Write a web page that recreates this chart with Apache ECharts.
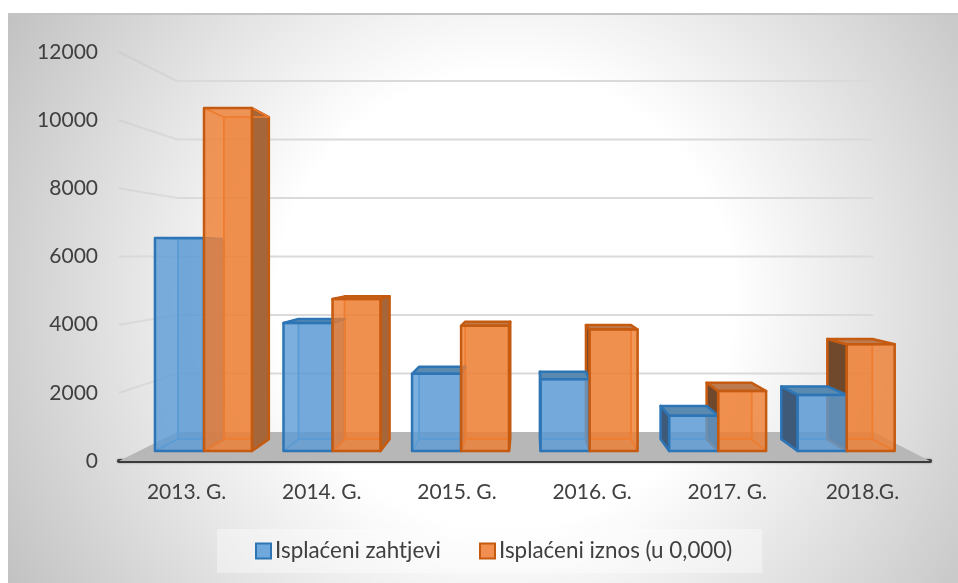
<!DOCTYPE html>
<html><head><meta charset="utf-8">
<style>html,body{margin:0;padding:0;background:#fff}#c{width:958px;height:583px}</style>
<script src="https://cdn.jsdelivr.net/npm/echarts@6/dist/echarts.min.js"></script>
</head><body><div id="c"></div>
<script>
const categories = ['2013. G.','2014. G.','2015. G.','2016. G.','2017. G.','2018.G.'];
const zahtjevi = [6570,3950,2380,2210,1090,1730];
const iznos = [10580,4690,3860,3750,1850,3290];
const ticks = [0,2000,4000,6000,8000,10000,12000];
const seriesNames = ['Isplaćeni zahtjevi','Isplaćeni iznos (u 0,000)'];

// perspective model
const VP_X = 529, VP_VALUE = 6000;
const T_BACK = 0.858, T_BAR_FRONT = 0.951, T_BAR_BACK = 0.893;
const BLUE = {start:0.1235,end:0.505,front:'rgba(91,155,213,0.80)',back:'rgba(91,155,213,0.28)',edge:'#2E75B6',inner:'#5B9BD5',left:'#3E5A78',right:'rgba(90,130,180,0.75)',top:'#5A8AB0'};
const ORANGE = {start:0.505,end:0.878,front:'rgba(237,125,49,0.80)',back:'rgba(237,125,49,0.28)',edge:'#C55A11',inner:'#ED7D31',left:'#70492C',right:'#A5663A',top:'#BC7A4E'};

function projector(api){
  const vy = api.coord([0,VP_VALUE])[1];
  return (p,t)=>[VP_X+(p[0]-VP_X)*t, vy+(p[1]-vy)*t];
}
function barRenderer(s){
  return function(params,api){
    const P = projector(api);
    const idx = api.value(0), v = api.value(1);
    const band = api.size([1,0])[0];
    const c0 = api.coord([idx,0]), c1 = api.coord([idx,v]);
    const xL = c0[0]-band/2+band*s.start, xR = c0[0]-band/2+band*s.end;
    const yB = c0[1], yT = c1[1], vy = api.coord([0,VP_VALUE])[1];
    const f = (x,y)=>P([x,y],T_BAR_FRONT), b = (x,y)=>P([x,y],T_BAR_BACK);
    const poly = (pts,fill,stroke,lw,z2)=>({type:'polygon',z2,shape:{points:pts},style:{fill:fill||'none',stroke,lineWidth:lw,lineJoin:'round'}});
    const ch = [];
    ch.push(poly([b(xL,yB),b(xR,yB),b(xR,yT),b(xL,yT)],s.back,s.inner,1.5,1));
    ch.push(poly([f(xL,yB),f(xR,yB),b(xR,yB),b(xL,yB)],null,s.inner,1.5,1));
    const leftFace=[f(xL,yB),f(xL,yT),b(xL,yT),b(xL,yB)], rightFace=[f(xR,yB),f(xR,yT),b(xR,yT),b(xR,yB)], topFace=[f(xL,yT),f(xR,yT),b(xR,yT),b(xL,yT)];
    if(f(xL,yB)[0]>VP_X) ch.push(poly(leftFace,s.left,s.edge,2.5,1)); else ch.push(poly(leftFace,null,s.inner,1.5,1));
    if(f(xR,yB)[0]<VP_X) ch.push(poly(rightFace,s.right,s.edge,2.5,1)); else ch.push(poly(rightFace,null,s.inner,1.5,1));
    if(yT>vy) ch.push(poly(topFace,s.top,s.edge,2.5,2)); else ch.push(poly(topFace,null,s.inner,1.5,1));
    ch.push(poly([f(xL,yB),f(xR,yB),f(xR,yT),f(xL,yT)],s.front,s.edge,2.5,3));
    return {type:'group',children:ch};
  };
}
function floorRenderer(params,api){
  const P = projector(api);
  const band = api.size([1,0])[0];
  const a = api.coord([0,0]), xL=a[0]-band/2, xR=xL+band*categories.length, y=a[1];
  return {type:'polygon',z2:0,shape:{points:[[xL,y],[xR,y],P([xR,y],T_BACK),P([xL,y],T_BACK)]},style:{fill:'#B7B7B7'}};
}
function gridRenderer(params,api){
  const P = projector(api);
  const band = api.size([1,0])[0];
  const a = api.coord([0,api.value(1)]), xL=a[0]-band/2, xR=xL+band*categories.length, y=a[1];
  const c = P([xL,y],T_BACK), d = P([xR,y],T_BACK);
  return {type:'group',children:[
    {type:'line',z2:0,shape:{x1:c[0],y1:c[1],x2:d[0],y2:d[1]},style:{stroke:'#DADADA',lineWidth:2}},
    {type:'line',z2:0,shape:{x1:xL,y1:y,x2:c[0],y2:c[1]},style:{stroke:'rgba(190,190,190,0.3)',lineWidth:2}}
  ]};
}
const font = 'Lato';
const chart = echarts.init(document.getElementById('c'),null,{renderer:'canvas'});
chart.setOption({
  animation:false,
  graphic:[
    {type:'rect',z:-2,shape:{x:8,y:14,width:950,height:569},
     style:{fill:{type:'radial',x:505,y:300,r:600,global:true,colorStops:[{offset:0,color:'#FFFFFF'},{offset:0.38,color:'#FFFFFF'},{offset:1,color:'#BDBDBD'}]}}},
    {type:'line',z:-1,shape:{x1:8,y1:14,x2:958,y2:14},style:{stroke:'#C4C4C4',lineWidth:2}}
  ],
  grid:{left:119,right:28,top:52,bottom:122},
  legend:{
    data:seriesNames,left:217,top:529,orient:'horizontal',
    padding:[11,30,11,38],itemGap:38,itemWidth:15,itemHeight:15,
    backgroundColor:'rgba(255,255,255,0.38)',
    textStyle:{fontFamily:font,fontSize:22.4,color:'#404040',padding:[1,0,0,-1]},
    icon:'rect'
  },
  xAxis:{type:'category',data:categories,boundaryGap:true,
    axisLine:{lineStyle:{color:'#3A3A3A',width:4,cap:'round',shadowBlur:2,shadowColor:'rgba(0,0,0,0.4)'}},axisTick:{show:false},splitLine:{show:false},
    axisLabel:{fontFamily:font,fontSize:21,color:'#404040',margin:21}},
  yAxis:{type:'value',min:0,max:12000,interval:2000,
    axisLine:{show:false},axisTick:{show:false},splitLine:{show:false},
    axisLabel:{fontFamily:font,fontSize:21,color:'#404040',margin:21,padding:[3,0,0,0],formatter:v=>String(v)}},
  series:[
    {type:'custom',name:'floor',z:1,silent:true,coordinateSystem:'cartesian2d',renderItem:floorRenderer,data:[[0,0]],encode:{x:0,y:1}},
    {type:'custom',name:'grid',z:1,silent:true,coordinateSystem:'cartesian2d',renderItem:gridRenderer,data:ticks.slice(1).map(t=>[0,t]),encode:{x:0,y:1}},
    {type:'custom',name:seriesNames[0],z:2,coordinateSystem:'cartesian2d',renderItem:barRenderer(BLUE),
     itemStyle:{color:'#6FA8DC',borderColor:BLUE.edge,borderWidth:2},
     data:zahtjevi.map((v,i)=>[i,v]),encode:{x:0,y:1}},
    {type:'custom',name:seriesNames[1],z:2,coordinateSystem:'cartesian2d',renderItem:barRenderer(ORANGE),
     itemStyle:{color:'#F08F4F',borderColor:ORANGE.edge,borderWidth:2},
     data:iznos.map((v,i)=>[i,v]),encode:{x:0,y:1}}
  ]
});
</script></body></html>
